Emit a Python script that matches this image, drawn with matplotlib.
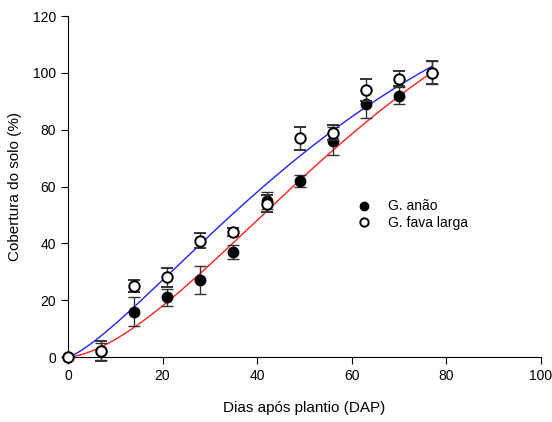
import numpy as np
import matplotlib
matplotlib.use('Agg')
import matplotlib.pyplot as plt

plt.rcParams['font.family'] = ['Liberation Sans', 'DejaVu Sans']

# Days after planting
dias = [0, 7, 14, 21, 28, 35, 42, 49, 56, 63, 70, 77]

# Ground cover (%) and error for each cultivar
anao = [0, 2, 16, 21, 27, 37, 55, 62, 76, 89, 92, 100]
anao_err = [0, 3, 5, 3, 5, 2.5, 3, 2, 5, 5, 3, 4]
fava = [0, 2, 25, 28, 41, 44, 54, 77, 79, 94, 98, 100]
fava_err = [0, 3.5, 2, 3.5, 2.5, 1.5, 3, 4, 2.5, 4, 2.5, 4]

# Weibull curve parameters (a, b, c) for each cultivar
fit_anao = (150, 72.4, 1.6)
fit_fava = (150, 69.3, 1.3)


def weibull(x, a, b, c):
    return a * (1 - np.exp(-(x / b) ** c))


fig = plt.figure(figsize=(5.52, 4.22), dpi=100)
ax = fig.add_axes([0.123, 0.154, 0.857, 0.808])

xs = np.linspace(0, 77, 200)
ax.plot(xs, weibull(xs, *fit_anao), color='#ff2020', lw=1.0, zorder=2)
ax.plot(xs, weibull(xs, *fit_fava), color='#2020ff', lw=1.0, zorder=2)

ax.errorbar(dias, anao, yerr=anao_err, fmt='o', color='black', ecolor='#333333',
            elinewidth=1.0, capsize=4, capthick=1.0, markersize=7.5,
            label='G. anão', zorder=3, clip_on=False)
ax.errorbar(dias, fava, yerr=fava_err, fmt='o', color='black', ecolor='#333333',
            mfc='white', mec='black', mew=1.4, elinewidth=1.0, capsize=4,
            capthick=1.0, markersize=7.5, label='G. fava larga', zorder=4,
            clip_on=False)

ax.set_xlim(0, 100)
ax.set_ylim(0, 120)
ax.set_xticks(range(0, 101, 20))
ax.set_yticks(range(0, 121, 20))
ax.spines['top'].set_visible(False)
ax.spines['right'].set_visible(False)
ax.tick_params(direction='out', length=5, labelsize=10)

ax.set_xlabel('Dias após plantio (DAP)', fontsize=11, labelpad=13)
ax.set_ylabel('Cobertura do solo (%)', fontsize=11, labelpad=8)

handles, labels = ax.get_legend_handles_labels()
handles = [h[0] for h in handles]
ax.legend(handles, labels, loc='center left', bbox_to_anchor=(0.585, 0.418),
          frameon=False, fontsize=10, handletextpad=1.2, labelspacing=0.15,
          handlelength=1.0, markerscale=0.8)

fig.savefig('out.png', dpi=100)
